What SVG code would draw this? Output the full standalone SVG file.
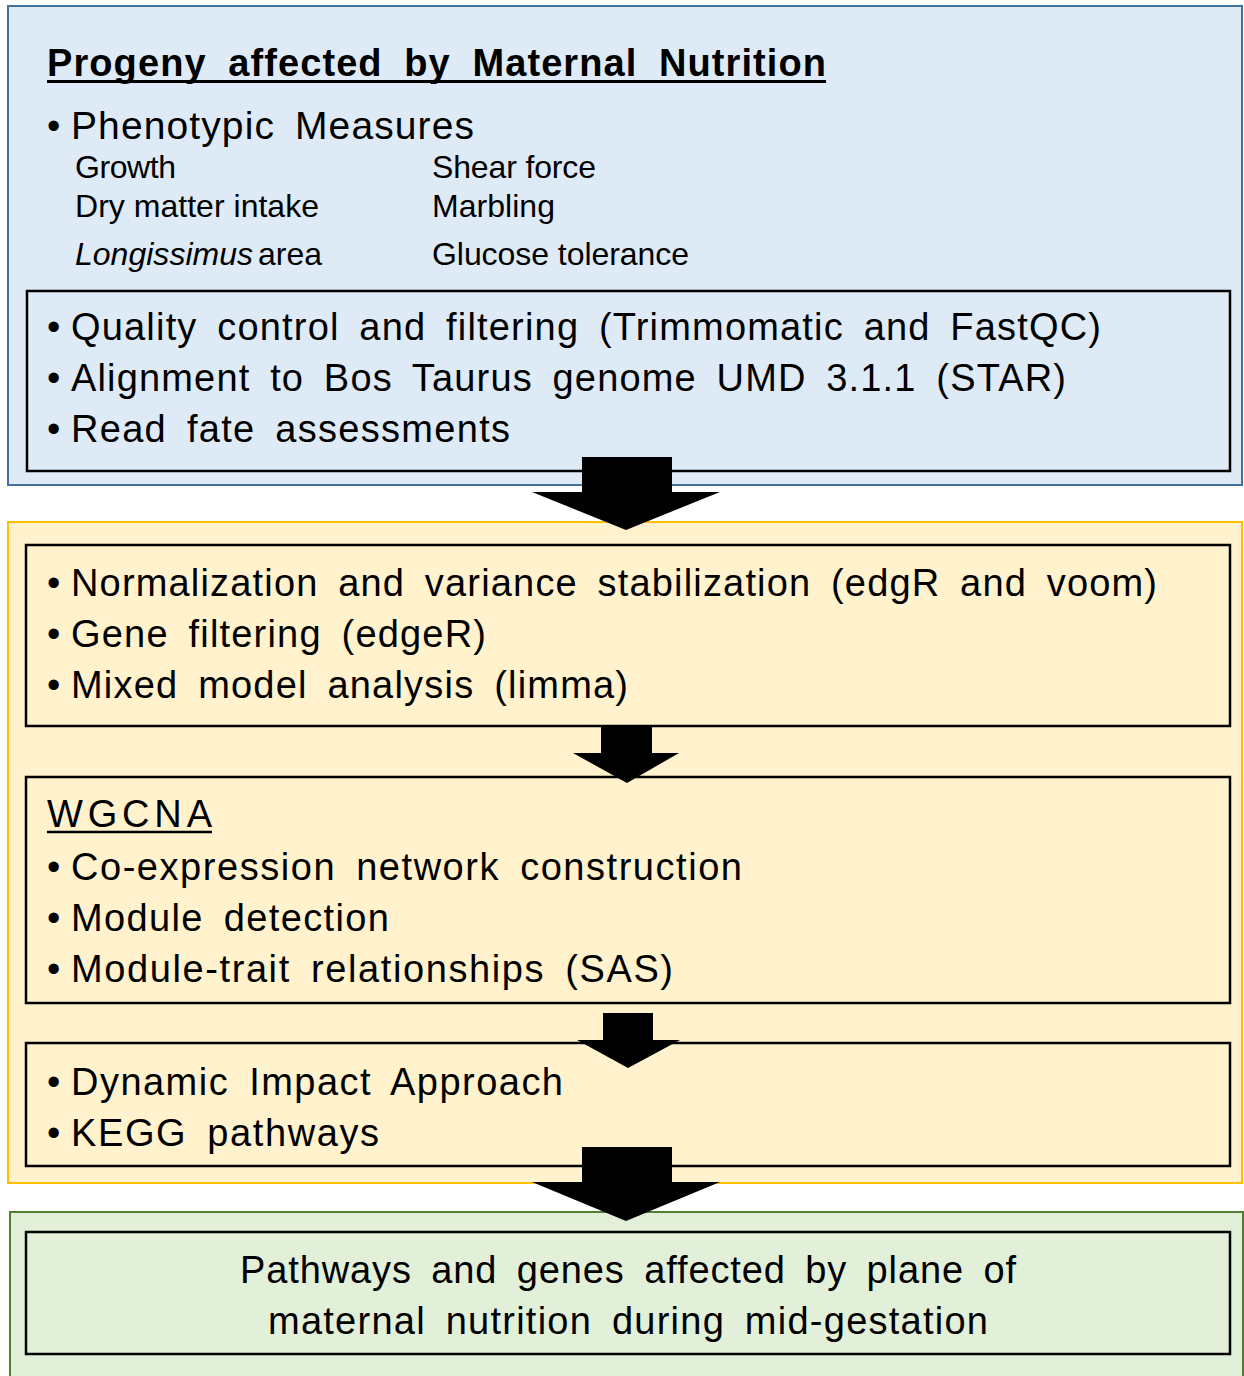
<svg xmlns="http://www.w3.org/2000/svg" width="1244" height="1376" viewBox="0 0 1244 1376">
<style>
text{font-family:"Liberation Sans",Arial,sans-serif;fill:#000}
.b{font-size:38px;word-spacing:8px}
.p{font-size:39px;word-spacing:8px}
.s{font-size:32px}
.t{font-size:38px;font-weight:bold;word-spacing:10px}
.w{font-size:38px}
.inner{fill:none;stroke:#000;stroke-width:2.5}
.arrow{fill:#000;stroke:none}
</style>
<rect width="1244" height="1376" fill="#fff"/>
<g id="phase-input">
<rect x="8" y="6" width="1234" height="479" fill="#DEEAF6" stroke="#41719C" stroke-width="2"/>
<text class="t" x="47" y="76" textLength="779" lengthAdjust="spacing">Progeny affected by Maternal Nutrition</text>
<line x1="47" y1="81.5" x2="826" y2="81.5" stroke="#000" stroke-width="3"/>
<text class="w" x="47" y="139">•</text>
<text class="p" x="71" y="139" textLength="403" lengthAdjust="spacing">Phenotypic Measures</text>
<text class="s" x="75" y="178" textLength="101" lengthAdjust="spacing">Growth</text>
<text class="s" x="75" y="217" textLength="244" lengthAdjust="spacing">Dry matter intake</text>
<text class="s" x="75" y="265" font-style="italic" textLength="178" lengthAdjust="spacing">Longissimus</text>
<text class="s" x="258" y="265" textLength="64" lengthAdjust="spacing">area</text>
<text class="s" x="432" y="178" textLength="164" lengthAdjust="spacing">Shear force</text>
<text class="s" x="432" y="217" textLength="123" lengthAdjust="spacing">Marbling</text>
<text class="s" x="432" y="265" textLength="257" lengthAdjust="spacing">Glucose tolerance</text>
</g>
<g id="node-qc">
<rect class="inner" x="27" y="291" width="1203" height="180"/>
<text class="w" x="47" y="340">•</text>
<text class="b" x="71" y="340" textLength="1030" lengthAdjust="spacing">Quality control and filtering (Trimmomatic and FastQC)</text>
<text class="w" x="47" y="391">•</text>
<text class="b" x="71" y="391" textLength="995" lengthAdjust="spacing">Alignment to Bos Taurus genome UMD 3.1.1 (STAR)</text>
<text class="w" x="47" y="442">•</text>
<text class="b" x="71" y="442" textLength="439" lengthAdjust="spacing">Read fate assessments</text>
</g>
<g id="phase-analysis">
<rect x="8" y="522" width="1234" height="661" fill="#FFF2CC" stroke="#FFC000" stroke-width="2"/>
</g>
<g id="node-normalization">
<rect class="inner" x="26" y="545" width="1204" height="181"/>
<text class="w" x="47" y="596">•</text>
<text class="b" x="71" y="596" textLength="1086" lengthAdjust="spacing">Normalization and variance stabilization (edgR and voom)</text>
<text class="w" x="47" y="647">•</text>
<text class="b" x="71" y="647" textLength="415" lengthAdjust="spacing">Gene filtering (edgeR)</text>
<text class="w" x="47" y="698">•</text>
<text class="b" x="71" y="698" textLength="557" lengthAdjust="spacing">Mixed model analysis (limma)</text>
</g>
<g id="node-wgcna">
<rect class="inner" x="26" y="777" width="1204" height="226"/>
<text class="w" x="47" y="827" textLength="165" lengthAdjust="spacing">WGCNA</text>
<line x1="47" y1="832" x2="212" y2="832" stroke="#000" stroke-width="2.5"/>
<text class="w" x="47" y="880">•</text>
<text class="b" x="71" y="880" textLength="671" lengthAdjust="spacing">Co-expression network construction</text>
<text class="w" x="47" y="931">•</text>
<text class="b" x="71" y="931" textLength="318" lengthAdjust="spacing">Module detection</text>
<text class="w" x="47" y="982">•</text>
<text class="b" x="71" y="982" textLength="602" lengthAdjust="spacing">Module-trait relationships (SAS)</text>
</g>
<g id="node-pathways">
<rect class="inner" x="26" y="1043" width="1204" height="123"/>
<text class="w" x="47" y="1095">•</text>
<text class="b" x="71" y="1095" textLength="492" lengthAdjust="spacing">Dynamic Impact Approach</text>
<text class="w" x="47" y="1146">•</text>
<text class="b" x="71" y="1146" textLength="308" lengthAdjust="spacing">KEGG pathways</text>
</g>
<g id="node-result">
<rect x="10" y="1212" width="1233" height="200" fill="#E2F0D9" stroke="#507E32" stroke-width="2"/>
<rect class="inner" x="26" y="1232" width="1204" height="122"/>
<text class="b" x="240" y="1283" textLength="776" lengthAdjust="spacing">Pathways and genes affected by plane of</text>
<text class="b" x="268" y="1334" textLength="720" lengthAdjust="spacing">maternal nutrition during mid-gestation</text>
</g>
<g id="connectors">
<polygon class="arrow" points="582,457 672,457 672,492 720,492 626,530 532,492 582,492"/>
<polygon class="arrow" points="601,725 652,725 652,753 679,753 627,783 573,753 601,753"/>
<polygon class="arrow" points="603,1013 653,1013 653,1040 680,1040 628,1068 577,1040 603,1040"/>
<polygon class="arrow" points="582,1147 672,1147 672,1182 720,1182 626,1221 532,1182 582,1182"/>
</g>
</svg>
